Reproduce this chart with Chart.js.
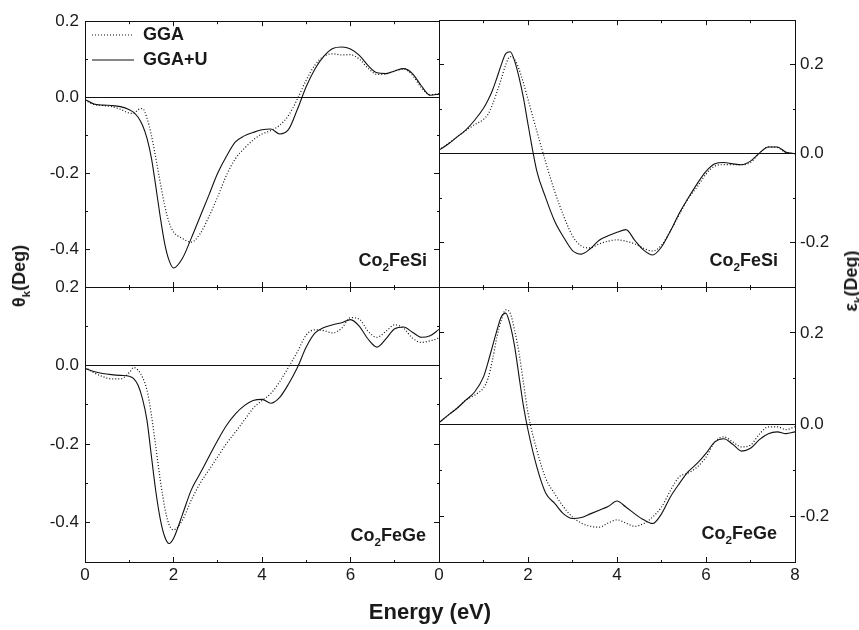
<!DOCTYPE html>
<html>
<head>
<meta charset="utf-8">
<script src="https://cdn.jsdelivr.net/npm/chart.js@4.4.0/dist/chart.umd.min.js"></script>
<style>
  body { margin: 0; background: #fff; }
  #wrap { position: relative; width: 859px; height: 630px; overflow: hidden;
          font-family: "Liberation Sans", Arial, sans-serif; color: #1a1a1a; }
  #wrap canvas { position: absolute; left: 0; top: 0; }
  .lbl { position: absolute; font-weight: bold; white-space: nowrap; line-height: 1; font-size: 18px; }
  .sub { font-size: 0.65em; position: relative; top: 0.4em; }
  .vt { transform: translate(-50%, -50%) rotate(-90deg); }
  .pn { transform: translateY(-50%); }
</style>
</head>
<body>
<div id="wrap">
  <canvas id="tl" width="859" height="630"></canvas>
  <canvas id="tr" width="859" height="630"></canvas>
  <canvas id="bl" width="859" height="630"></canvas>
  <canvas id="br" width="859" height="630"></canvas>

  <div class="lbl vt" style="left:19px; top:276px;">&theta;<span class="sub">k</span>(Deg)</div>
  <div class="lbl vt" style="left:851px; top:281px;">&epsilon;<span class="sub">k</span>(Deg)</div>
  <div class="lbl pn" style="right:432px; top:260px;">Co<span class="sub">2</span>FeSi</div>
  <div class="lbl pn" style="right:81px; top:260px;">Co<span class="sub">2</span>FeSi</div>
  <div class="lbl pn" style="right:433px; top:535px;">Co<span class="sub">2</span>FeGe</div>
  <div class="lbl pn" style="right:82px; top:533px;">Co<span class="sub">2</span>FeGe</div>
  <div class="lbl" style="left:430px; top:612px; font-size:22px; transform:translate(-50%,-50%);">Energy (eV)</div>
</div>

<script>
// photon energy (eV), shared by all four panels
const energy = [0, 0.2, 0.4, 0.6, 0.8, 1.0, 1.1, 1.2, 1.3, 1.4, 1.5, 1.6, 1.7, 1.8, 1.9, 2.0,
  2.2, 2.4, 2.6, 2.8, 3.0, 3.2, 3.4, 3.6, 3.8, 4.0, 4.2, 4.4, 4.6, 4.8, 5.0, 5.2, 5.4, 5.6, 5.8,
  6.0, 6.2, 6.4, 6.6, 6.8, 7.0, 7.2, 7.4, 7.6, 7.8, 8.0];

// Kerr rotation, Co2FeSi
const rotSiGGA = [-0.008, -0.019, -0.022, -0.025, -0.032, -0.042, -0.043, -0.033, -0.030, -0.055, -0.100, -0.160, -0.225, -0.285, -0.330, -0.355,
  -0.372, -0.382, -0.360, -0.315, -0.262, -0.205, -0.162, -0.135, -0.113, -0.097, -0.088, -0.074, -0.048, -0.005, 0.045, 0.085, 0.108, 0.114, 0.111,
  0.112, 0.100, 0.076, 0.060, 0.061, 0.069, 0.074, 0.058, 0.025, 0.006, 0.009];
const rotSiGGAU = [-0.006, -0.018, -0.021, -0.022, -0.025, -0.033, -0.040, -0.053, -0.074, -0.108, -0.160, -0.235, -0.315, -0.385, -0.430, -0.450,
  -0.425, -0.372, -0.315, -0.258, -0.200, -0.155, -0.118, -0.102, -0.093, -0.086, -0.084, -0.097, -0.085, -0.032, 0.028, 0.075, 0.108, 0.128, 0.132,
  0.127, 0.110, 0.083, 0.064, 0.062, 0.069, 0.075, 0.062, 0.030, 0.005, 0.008];

// Kerr ellipticity, Co2FeSi
const ellSiGGA = [0.008, 0.022, 0.037, 0.052, 0.065, 0.077, 0.088, 0.110, 0.138, 0.168, 0.200, 0.218, 0.212, 0.189, 0.158, 0.122,
  0.050, -0.020, -0.085, -0.140, -0.185, -0.208, -0.212, -0.203, -0.197, -0.194, -0.197, -0.203, -0.213, -0.219, -0.206, -0.174, -0.137, -0.101, -0.075,
  -0.046, -0.028, -0.025, -0.025, -0.025, -0.020, 0.001, 0.015, 0.014, 0.002, 0.000];
const ellSiGGAU = [0.008, 0.021, 0.037, 0.053, 0.075, 0.102, 0.120, 0.142, 0.170, 0.200, 0.225, 0.229, 0.208, 0.171, 0.124, 0.066,
  -0.040, -0.100, -0.152, -0.188, -0.218, -0.226, -0.214, -0.195, -0.185, -0.177, -0.171, -0.195, -0.217, -0.228, -0.210, -0.174, -0.134, -0.100, -0.068,
  -0.040, -0.023, -0.020, -0.023, -0.025, -0.017, 0.001, 0.015, 0.015, 0.003, 0.000];

// Kerr rotation, Co2FeGe
const rotGeGGA = [-0.004, -0.018, -0.028, -0.034, -0.034, -0.018, -0.005, -0.012, -0.030, -0.062, -0.125, -0.207, -0.290, -0.360, -0.405, -0.418,
  -0.394, -0.343, -0.300, -0.266, -0.232, -0.198, -0.169, -0.139, -0.109, -0.089, -0.071, -0.041, -0.004, 0.035, 0.078, 0.091, 0.089, 0.083, 0.095,
  0.122, 0.118, 0.087, 0.072, 0.087, 0.104, 0.095, 0.070, 0.059, 0.063, 0.070];
const rotGeGGAU = [-0.007, -0.015, -0.020, -0.023, -0.025, -0.027, -0.033, -0.050, -0.085, -0.139, -0.230, -0.320, -0.390, -0.435, -0.453, -0.440,
  -0.380, -0.317, -0.275, -0.232, -0.190, -0.152, -0.123, -0.102, -0.089, -0.086, -0.096, -0.081, -0.047, -0.005, 0.047, 0.083, 0.097, 0.104, 0.109,
  0.117, 0.100, 0.067, 0.047, 0.068, 0.094, 0.098, 0.085, 0.072, 0.076, 0.092];

// Kerr ellipticity, Co2FeGe
const ellGeGGA = [0.004, 0.020, 0.035, 0.053, 0.064, 0.080, 0.100, 0.140, 0.190, 0.228, 0.250, 0.243, 0.205, 0.155, 0.090, 0.025,
  -0.056, -0.118, -0.151, -0.180, -0.202, -0.215, -0.222, -0.224, -0.215, -0.208, -0.215, -0.222, -0.216, -0.202, -0.180, -0.144, -0.114, -0.106, -0.093,
  -0.071, -0.038, -0.027, -0.038, -0.049, -0.045, -0.021, -0.005, -0.005, -0.011, -0.005];
const ellGeGGAU = [0.004, 0.020, 0.035, 0.053, 0.071, 0.104, 0.135, 0.170, 0.205, 0.235, 0.243, 0.217, 0.170, 0.104, 0.039, -0.012,
  -0.093, -0.150, -0.172, -0.195, -0.205, -0.203, -0.195, -0.187, -0.179, -0.167, -0.180, -0.195, -0.208, -0.216, -0.195, -0.158, -0.129, -0.103, -0.085,
  -0.063, -0.038, -0.031, -0.043, -0.058, -0.052, -0.033, -0.020, -0.016, -0.020, -0.016];

const seriesNames = ['GGA', 'GGA+U'];

Chart.defaults.font.family = '"Liberation Sans", Arial, sans-serif';
Chart.defaults.color = '#1a1a1a';

const ink = '#111';
const dashIn = [0, 2, 3, 100];  // tick drawn from inside toward border (top / left axes)
const dashOut = [3, 100];       // tick drawn from border toward inside (bottom / right axes)
const minorX = v => Math.round(v) % 2 !== 0;
const minorY = v => Math.round(v * 10) % 2 !== 0;
// fix the thickness of an axis box so the plot areas line up exactly
const fixSize = n => s => { if (s.isHorizontal()) s.height = n; else s.width = n; };

function pts(vals) {
  return energy.map((e, i) => ({x: e, y: vals[i]}));
}

function tickGrid(isMinor, dash, extra) {
  return Object.assign({
    drawOnChartArea: false,
    drawTicks: true,
    tickLength: -5,
    tickColor: ink,
    tickWidth: 1,
    tickBorderDash: c => (c.tick && isMinor(c.tick.value)) ? dash : []
  }, extra || {});
}

function legendItems(chart) {
  return chart.data.datasets.map((ds, i) => ({
    text: ds.label,
    datasetIndex: i,
    fillStyle: 'rgba(0,0,0,0)',
    strokeStyle: ds.borderColor,
    lineDash: ds.borderDash || [],
    lineWidth: ds.borderWidth,
    pointStyle: 'line',
    fontColor: '#1a1a1a'
  }));
}

function makePanel(id, p) {
  const other = p.side === 'left' ? 'right' : 'left';
  const border = {display: true, color: ink, width: 1};
  const pad = p.pad;
  // labelled axes get a real box (labels are clipped to it); padding shrinks to match
  const yBox = 60;
  const xBox = p.showX ? 40 : 0;
  const layoutPad = {
    left: pad.left - (p.side === 'left' ? yBox : 0),
    right: pad.right - (p.side === 'right' ? yBox : 0),
    top: pad.top,
    bottom: pad.bottom - xBox
  };
  new Chart(document.getElementById(id), {
    type: 'line',
    data: {
      datasets: [
        {label: seriesNames[0], data: pts(p.gga), borderColor: ink, borderWidth: 1.2, borderDash: [1, 2],
         pointRadius: 0, cubicInterpolationMode: 'monotone', fill: false},
        {label: seriesNames[1], data: pts(p.ggaU), borderColor: ink, borderWidth: 1.1,
         pointRadius: 0, cubicInterpolationMode: 'monotone', fill: false}
      ]
    },
    options: {
      responsive: false,
      animation: false,
      events: [],
      layout: {padding: layoutPad},
      plugins: {
        tooltip: {enabled: false},
        legend: {
          display: !!p.legend,
          position: 'chartArea',
          align: 'start',
          title: {display: true, text: '', font: {size: 10}, padding: {top: 7, bottom: 0}},
          labels: {
            usePointStyle: true, pointStyleWidth: 42,
            padding: 7, color: '#1a1a1a',
            font: {size: 18, weight: 'bold'},
            generateLabels: legendItems
          }
        }
      },
      scales: {
        x: {
          type: 'linear', position: 'bottom', min: 0, max: 8, border,
          grid: tickGrid(minorX, dashOut),
          ticks: {
            display: p.showX, stepSize: 1, autoSkip: false, maxRotation: 0, padding: 8,
            font: {size: 17}, color: '#1a1a1a',
            callback: v => (minorX(v) || (p.hideLastX && v === 8)) ? '' : String(v)
          },
          afterFit: fixSize(xBox)
        },
        x2: {
          type: 'linear', axis: 'x', position: 'top', min: 0, max: 8, border,
          grid: tickGrid(minorX, dashIn),
          ticks: {display: false, stepSize: 1, autoSkip: false},
          afterFit: fixSize(0)
        },
        y: {
          type: 'linear', position: p.side, min: p.yMin, max: p.yMax, border,
          grid: tickGrid(minorY, p.side === 'left' ? dashIn : dashOut, {
            drawOnChartArea: true,
            color: c => (c.tick && Math.abs(c.tick.value) < 1e-9) ? ink : 'rgba(0,0,0,0)'
          }),
          ticks: {
            stepSize: 0.1, autoSkip: false, padding: p.side === 'left' ? 11 : 10,
            font: {size: 17}, color: '#1a1a1a',
            callback: v => minorY(v) ? '' : (Math.round(v * 10) / 10).toFixed(1)
          },
          afterFit: fixSize(yBox)
        },
        y2: {
          type: 'linear', axis: 'y', position: other, min: p.yMin, max: p.yMax, border,
          grid: tickGrid(minorY, other === 'left' ? dashIn : dashOut),
          ticks: {display: false, stepSize: 0.1, autoSkip: false},
          afterFit: fixSize(0)
        }
      }
    }
  });
}

makePanel('tl', {gga: rotSiGGA, ggaU: rotSiGGAU, side: 'left', yMin: -0.5, yMax: 0.2,
  showX: false, legend: true, pad: {left: 85, top: 13, right: 420, bottom: 343}});
makePanel('tr', {gga: ellSiGGA, ggaU: ellSiGGAU, side: 'right', yMin: -0.3, yMax: 0.3,
  showX: false, pad: {left: 439, top: 13, right: 64, bottom: 343}});
makePanel('bl', {gga: rotGeGGA, ggaU: rotGeGGAU, side: 'left', yMin: -0.5, yMax: 0.2,
  showX: true, hideLastX: true, pad: {left: 85, top: 287, right: 420, bottom: 68}});
makePanel('br', {gga: ellGeGGA, ggaU: ellGeGGAU, side: 'right', yMin: -0.3, yMax: 0.3,
  showX: true, pad: {left: 439, top: 287, right: 64, bottom: 68}});
</script>
</body>
</html>
